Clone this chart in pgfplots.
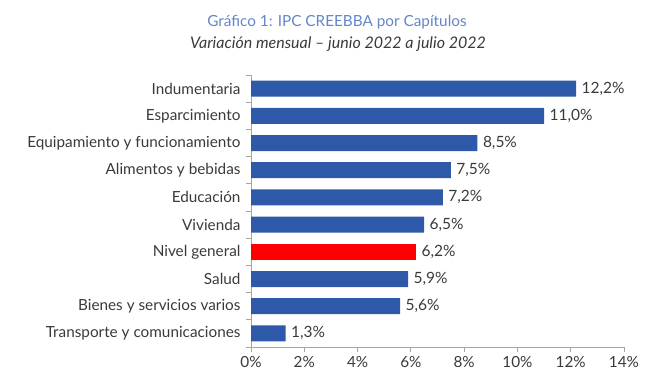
\documentclass[border=0pt]{standalone}
\usepackage{pgfplots}
\pgfplotsset{compat=1.18}
\usepackage{fontspec}
\setmainfont{Lato}
\definecolor{barblue}{HTML}{2E59A8}
\definecolor{titleblue}{HTML}{6585C8}
\definecolor{txt}{HTML}{3A3A3A}
\definecolor{axgray}{HTML}{A6A6A6}
\begin{document}
\begin{tikzpicture}[x=1pt,y=1pt]
\path[use as bounding box] (0,0) rectangle (669,389);
\node[titleblue, font=\fontsize{15.3}{17}\selectfont] at (337,367) {Gráfico 1: IPC CREEBBA por Capítulos};
\node[txt, font=\fontsize{16}{18}\selectfont\itshape] at (338,345) {Variación mensual – junio 2022 a julio 2022};
\begin{axis}[
  at={(251pt,42pt)}, anchor=south west,
  scale only axis, width=373pt, height=272pt,
  xmin=0, xmax=14, ymin=-0.5, ymax=9.5,
  y dir=reverse,
  axis x line*=bottom, axis y line*=left,
  axis line style={axgray, line width=0.8pt},
  xtick={0,2,...,14},
  xticklabel={\pgfmathprintnumber{\tick}\%},
  ytick={0,...,9},
  yticklabels={Indumentaria,Esparcimiento,Equipamiento y funcionamiento,Alimentos y bebidas,Educación,Vivienda,Nivel general,Salud,Bienes y servicios varios,Transporte y comunicaciones},
  minor ytick={-0.5,0.5,...,9.5},
  tick align=outside,
  major tick length=5pt, minor tick length=5pt,
  x tick style={axgray, line width=0.8pt},
  minor y tick style={axgray, line width=0.8pt},
  major y tick style={draw=none},
  ticklabel style={txt, font=\fontsize{15.3}{17}\selectfont},
  /pgf/number format/assume math mode=true,
  xticklabel style={yshift=-1pt},
  yticklabel style={xshift=-2pt},
  xbar, bar width=16pt, bar shift=0pt,
  nodes near coords={\pgfmathprintnumber[fixed,fixed zerofill,precision=1,use comma]{\pgfplotspointmeta}\%},
  nodes near coords align={horizontal},
  every node near coord/.append style={txt, font=\fontsize{15.5}{17}\selectfont, xshift=2pt, /pgf/number format/assume math mode=true},
  clip=false,
]
\addplot[fill=barblue, draw=none] coordinates {(12.2,0) (11.0,1) (8.5,2) (7.5,3) (7.2,4) (6.5,5) (5.9,7) (5.6,8) (1.3,9)};
\addplot[fill=red, draw=none] coordinates {(6.2,6)};
\end{axis}
\end{tikzpicture}
\end{document}
